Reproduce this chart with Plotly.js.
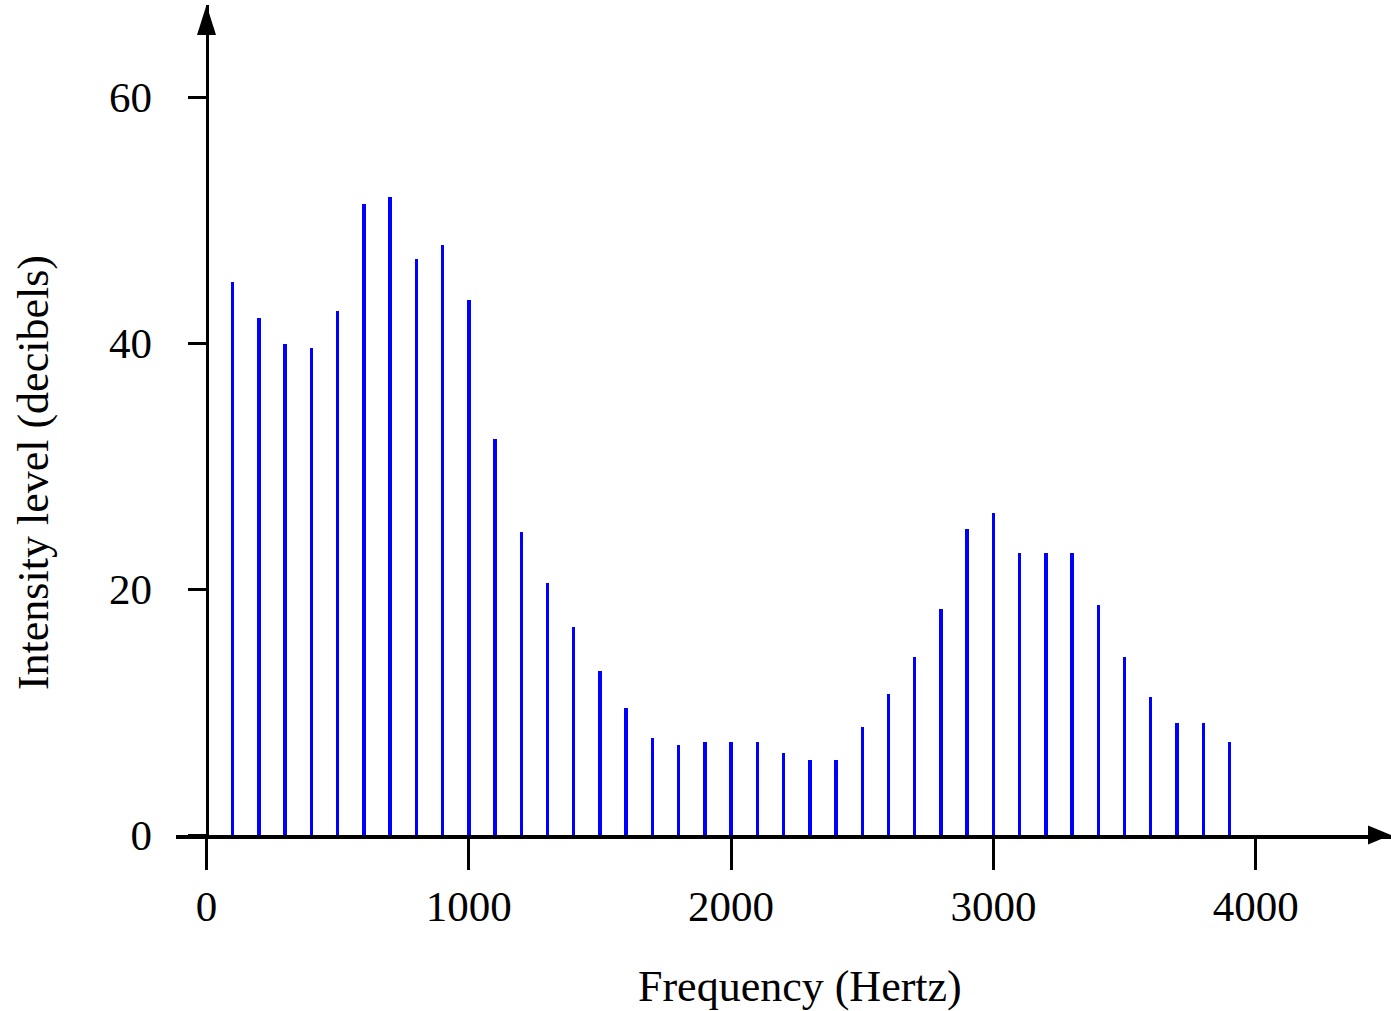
<!DOCTYPE html>
<html>
<head>
<meta charset="utf-8">
<script src="https://cdn.plot.ly/plotly-3.0.1.min.js"></script>
<style>
  html, body { margin: 0; padding: 0; background: #ffffff; }
  #chart { width: 1391px; height: 1011px; }
</style>
</head>
<body>
<div id="chart"></div>
<script>
// Harmonic frequencies (Hz)
const frequencies = [100, 200, 300, 400, 500, 600, 700, 800, 900, 1000,
                     1100, 1200, 1300, 1400, 1500, 1600, 1700, 1800, 1900, 2000,
                     2100, 2200, 2300, 2400, 2500, 2600, 2700, 2800, 2900, 3000,
                     3100, 3200, 3300, 3400, 3500, 3600, 3700, 3800, 3900];
// Intensity level (dB) of each harmonic
const intensities = [45.0, 42.0, 39.9, 39.6, 42.6, 51.3, 51.9, 46.8, 48.0, 43.5,
                     32.2, 24.6, 20.5, 16.9, 13.3, 10.3, 7.9, 7.3, 7.6, 7.6,
                     7.6, 6.7, 6.1, 6.1, 8.8, 11.5, 14.5, 18.4, 24.9, 26.2,
                     22.9, 22.9, 22.9, 18.7, 14.5, 11.2, 9.1, 9.1, 7.6];

const xTickVals = [0, 1000, 2000, 3000, 4000];
const xTickText = ["0", "1000", "2000", "3000", "4000"];
const yTickVals = [0, 20, 40, 60];
const yTickText = ["0", "20", "40", "60"];

const xTitle = "Frequency (Hertz)";
const yTitle = "Intensity level (decibels)";

const xRange = [-116.3, 4515.8];
const yRange = [0, 67.48];

const fontFamily = "'Liberation Serif', 'Times New Roman', serif";

const trace = {
  type: "bar",
  x: frequencies,
  y: intensities,
  width: 13,
  marker: { color: "#0000ff", line: { width: 0 } },
  hoverinfo: "x+y"
};

// paper x-position of the frequency origin (where the vertical axis sits)
const yAxisPos = (0 - xRange[0]) / (xRange[1] - xRange[0]);

const layout = {
  width: 1391,
  height: 1011,
  margin: { l: 176, r: 0, t: 5, b: 176, pad: 0 },
  paper_bgcolor: "#ffffff",
  plot_bgcolor: "#ffffff",
  showlegend: false,
  bargap: 0,
  font: { family: fontFamily, color: "#000000", size: 43 },
  xaxis: {
    range: xRange,
    showgrid: false,
    zeroline: false,
    showline: true,
    linecolor: "#000000",
    linewidth: 3.5,
    ticks: "outside",
    ticklen: 31,
    tickwidth: 3,
    tickcolor: "#000000",
    tickmode: "array",
    tickvals: xTickVals,
    ticktext: xTickText,
    ticklabelstandoff: 0,
    tickfont: { family: fontFamily, size: 43, color: "#000000" },
    fixedrange: true
  },
  yaxis: {
    range: yRange,
    anchor: "free",
    position: yAxisPos,
    showgrid: false,
    zeroline: false,
    showline: true,
    linecolor: "#000000",
    linewidth: 3.5,
    ticks: "outside",
    ticklen: 18,
    tickwidth: 3,
    tickcolor: "#000000",
    tickmode: "array",
    tickvals: yTickVals,
    ticktext: yTickText,
    ticklabelstandoff: 27,
    tickfont: { family: fontFamily, size: 43, color: "#000000" },
    fixedrange: true
  },
  shapes: [
    // arrowhead on top of the intensity axis
    {
      type: "path",
      xref: "paper", yref: "paper",
      xsizemode: "pixel", ysizemode: "pixel",
      xanchor: yAxisPos, yanchor: 1,
      path: "M0,0 L-9.5,-30 L9.5,-30 Z",
      fillcolor: "#000000",
      line: { width: 0 }
    },
    // arrowhead at the right end of the frequency axis
    {
      type: "path",
      xref: "paper", yref: "paper",
      xsizemode: "pixel", ysizemode: "pixel",
      xanchor: 1, yanchor: 0,
      path: "M0,0 L-23,9.5 L-23,-9.5 Z",
      fillcolor: "#000000",
      line: { width: 0 }
    }
  ],
  annotations: [
    {
      text: xTitle,
      xref: "paper", yref: "paper",
      x: 0.5136, y: -0.183,
      xanchor: "center", yanchor: "middle",
      showarrow: false,
      font: { family: fontFamily, size: 44, color: "#000000" }
    },
    {
      text: yTitle,
      xref: "paper", yref: "paper",
      x: -0.1177, y: 0.4373,
      xanchor: "center", yanchor: "middle",
      textangle: -90,
      showarrow: false,
      font: { family: fontFamily, size: 44, color: "#000000" }
    }
  ]
};

Plotly.newPlot("chart", [trace], layout, { displayModeBar: false, staticPlot: true });
</script>
</body>
</html>
